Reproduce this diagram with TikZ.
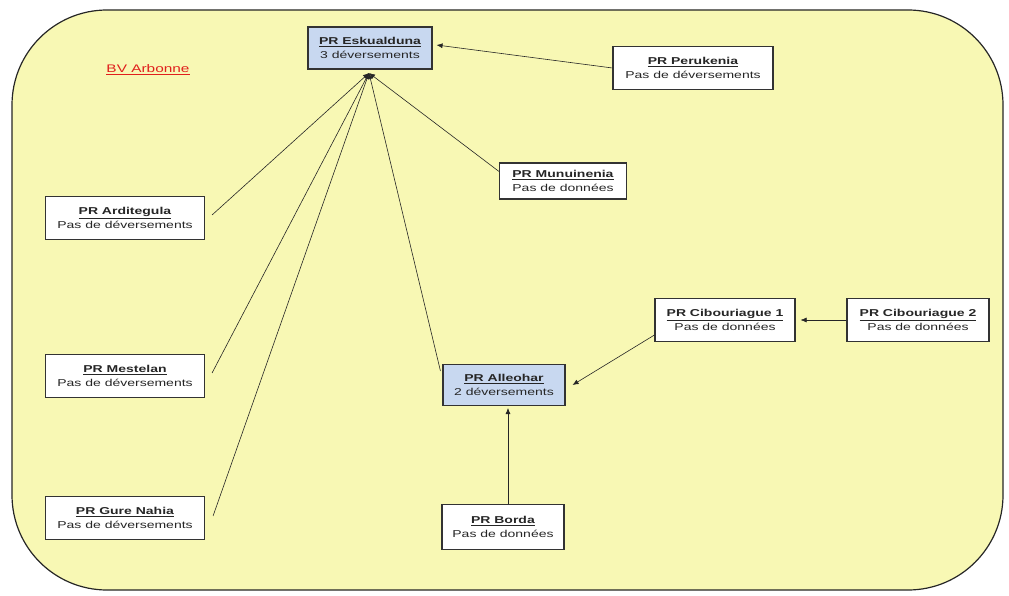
\documentclass[tikz,border=0pt]{standalone}
\usepackage{fontspec}
\setmainfont{Liberation Sans}[FakeStretch=1.4]
\usetikzlibrary{arrows.meta,positioning}
\definecolor{bvyellow}{HTML}{F8F8B4}
\definecolor{prblue}{HTML}{C8D8F0}
\definecolor{bvred}{HTML}{E0201C}

\begin{document}
\begin{tikzpicture}[x=1pt,y=-1pt,font=\fontsize{10}{14}\selectfont,
  prbox/.style={draw=black!80,line width=1.1pt,fill=white,align=center,inner sep=2pt,minimum height=43pt,text=black!85},
  prmain/.style={prbox,fill=prblue},
  link/.style={black!85,line width=.6pt,-{Latex[length=6pt,width=5pt]}}]
\useasboundingbox (0,0) rectangle (1009,596);
\draw[black!85,line width=1.2pt,fill=bvyellow,rounded corners=95pt] (12,10) rectangle (1003,590);
\node[text=bvred,font=\fontsize{11}{13}\selectfont] (bv) at (148,70) {\underline{BV Arbonne}};
% postes de refoulement
\node[prmain,minimum width=124pt,minimum height=42pt] (eskualduna) at (370,48) {\underline{\textbf{PR Eskualduna}}\\3 déversements};
\node[prbox,minimum width=160pt] (perukenia) at (693,68) {\underline{\textbf{PR Perukenia}}\\Pas de déversements};
\node[prbox,minimum width=127pt,minimum height=36pt] (munuinenia) at (563,181) {\underline{\textbf{PR Munuinenia}}\\Pas de données};
\node[prbox,minimum width=159pt] (arditegula) at (125,218) {\underline{\textbf{PR Arditegula}}\\Pas de déversements};
\node[prbox,minimum width=140pt] (cibou1) at (725,320) {\underline{\textbf{PR Cibouriague 1}}\\Pas de données};
\node[prbox,minimum width=142pt] (cibou2) at (918,320) {\underline{\textbf{PR Cibouriague 2}}\\Pas de données};
\node[prmain,minimum width=122pt,minimum height=41pt] (alleohar) at (504,385) {\underline{\textbf{PR Alleohar}}\\2 déversements};
\node[prbox,minimum width=159pt] (mestelan) at (125,376) {\underline{\textbf{PR Mestelan}}\\Pas de déversements};
\node[prbox,minimum width=159pt] (gurenahia) at (125,518) {\underline{\textbf{PR Gure Nahia}}\\Pas de déversements};
\node[prbox,minimum width=122pt,minimum height=45pt] (borda) at (503,527) {\underline{\textbf{PR Borda}}\\Pas de données};
% liaisons
\coordinate (eskfoot) at (369,73);
\draw[link] ([xshift=7pt,yshift=3pt]arditegula.east) -- (eskfoot);
\draw[link] ([xshift=7pt,yshift=3pt]mestelan.east) -- (eskfoot);
\draw[link] ([xshift=8pt,yshift=2pt]gurenahia.east) -- (eskfoot);
\draw[link] ([yshift=-9pt]munuinenia.north west) -- (eskfoot);
\draw[link] ([xshift=-2pt,yshift=-7pt]alleohar.north west) -- (eskfoot);
\draw[link] (perukenia.west) -- ([xshift=4pt,yshift=3pt]eskualduna.east);
\draw[link] (cibou2.west) -- ([xshift=5pt]cibou1.east);
\draw[link] ([yshift=-15pt]cibou1.west) -- ([xshift=7pt]alleohar.east);
\draw[link] ([xshift=5pt]borda.north) -- ([xshift=4pt,yshift=-2pt]alleohar.south);
\end{tikzpicture}
\end{document}
